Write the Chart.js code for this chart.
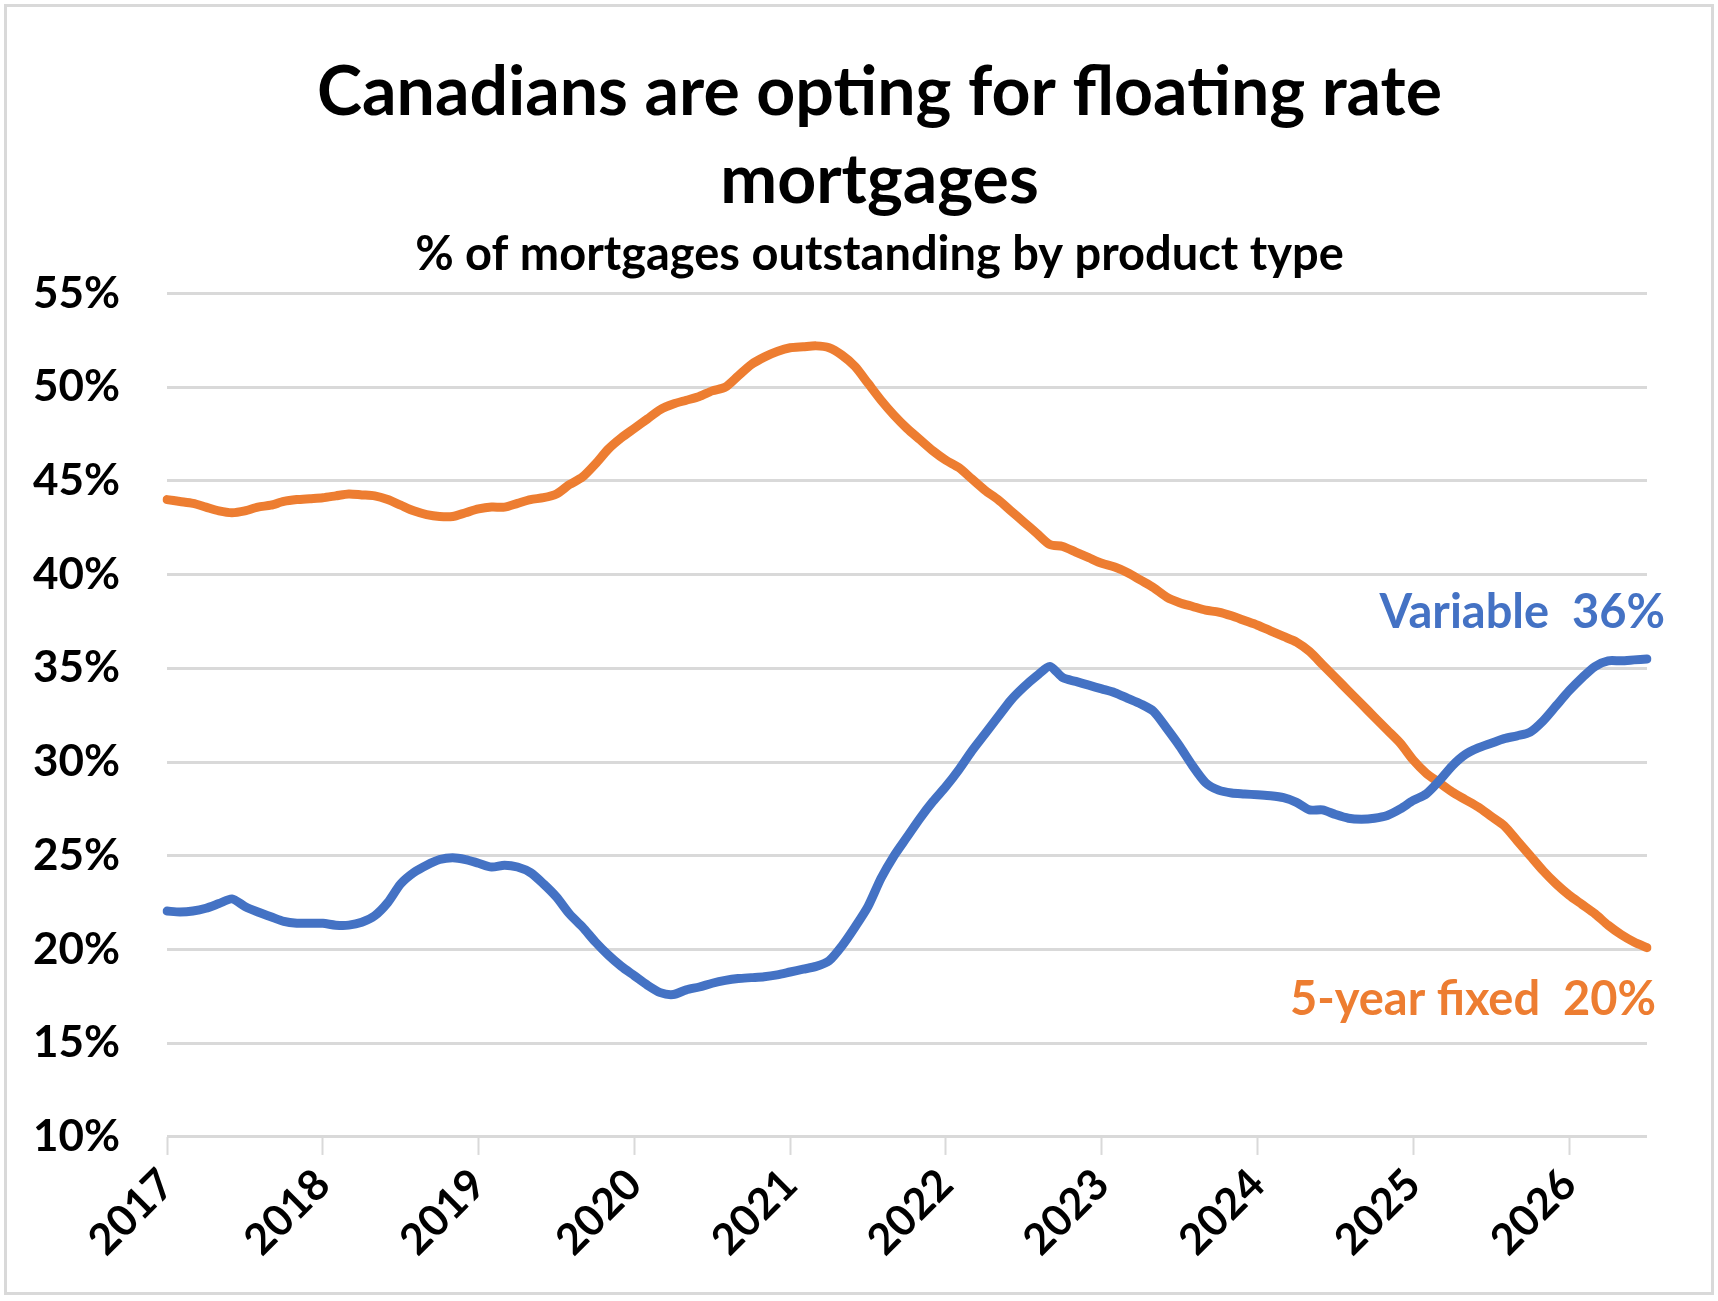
<!DOCTYPE html>
<html>
<head>
<meta charset="utf-8">
<script src="https://cdn.jsdelivr.net/npm/chart.js@4.4.1/dist/chart.umd.min.js"></script>
<style>
  html, body { margin: 0; padding: 0; background: #fff; }
  #wrap { position: relative; width: 1718px; height: 1301px; }
  #frame { position: absolute; left: 4px; top: 4px; right: 4px; bottom: 6px; border: 3px solid #d9d9d9; pointer-events: none; }
</style>
</head>
<body>
<div id="wrap">
  <canvas id="grafico"></canvas>
  <div id="frame"></div>
</div>
<script>
// --- DADOS ---
const anos = ['2017', '2018', '2019', '2020', '2021', '2022', '2023', '2024', '2025', '2026'];
const mesesNomes = ['Jan', 'Feb', 'Mar', 'Apr', 'May', 'Jun', 'Jul', 'Aug', 'Sep', 'Oct', 'Nov', 'Dec'];

// % variable rate mortgages (monthly, Jan 2017 - Jul 2026)
const variavel = [
  22.05, 22.0, 22.05, 22.2, 22.45, 22.7, 22.3, 22.0, 21.75, 21.5,
  21.4, 21.4, 21.4, 21.3, 21.3, 21.45, 21.8, 22.5, 23.5, 24.1,
  24.5, 24.8, 24.9, 24.8, 24.6, 24.4, 24.5, 24.4, 24.1, 23.5,
  22.8, 21.9, 21.2, 20.4, 19.7, 19.1, 18.6, 18.1, 17.7, 17.6,
  17.85, 18.0, 18.2, 18.35, 18.45, 18.5, 18.55, 18.65, 18.8, 18.95,
  19.1, 19.4, 20.2, 21.2, 22.3, 23.8, 25.0, 26.0, 27.0, 27.9,
  28.7, 29.6, 30.6, 31.5, 32.4, 33.3, 34.0, 34.6, 35.1, 34.5,
  34.3, 34.1, 33.9, 33.7, 33.4, 33.1, 32.7, 31.8, 30.85, 29.8,
  28.9, 28.5, 28.35, 28.3, 28.25, 28.2, 28.1, 27.85, 27.45, 27.45,
  27.2, 27.0, 26.95, 27.0, 27.15, 27.5, 27.95, 28.3, 29.0, 29.8,
  30.4, 30.75, 31.0, 31.25, 31.4, 31.6, 32.2, 33.0, 33.8, 34.5,
  35.1, 35.4, 35.4, 35.45, 35.5
];

// % 5-year fixed mortgages
const fixo = [
  44.0, 43.9, 43.8, 43.6, 43.4, 43.3, 43.4, 43.6, 43.7, 43.9,
  44.0, 44.05, 44.1, 44.2, 44.3, 44.25, 44.2, 44.0, 43.7, 43.4,
  43.2, 43.1, 43.1, 43.3, 43.5, 43.6, 43.6, 43.8, 44.0, 44.1,
  44.3, 44.8, 45.2, 45.9, 46.7, 47.3, 47.8, 48.3, 48.8, 49.1,
  49.3, 49.5, 49.8, 50.0, 50.6, 51.2, 51.6, 51.9, 52.1, 52.15,
  52.2, 52.1, 51.7, 51.1, 50.2, 49.3, 48.5, 47.8, 47.2, 46.6,
  46.1, 45.7, 45.1, 44.5, 44.0, 43.4, 42.8, 42.2, 41.6, 41.5,
  41.2, 40.9, 40.6, 40.4, 40.1, 39.7, 39.3, 38.8, 38.5, 38.3,
  38.1, 38.0, 37.8, 37.55, 37.3, 37.0, 36.7, 36.4, 35.9, 35.2,
  34.5, 33.8, 33.1, 32.4, 31.7, 31.0, 30.1, 29.4, 28.9, 28.4,
  28.0, 27.6, 27.1, 26.6, 25.8, 25.0, 24.2, 23.5, 22.9, 22.4,
  21.9, 21.3, 20.8, 20.4, 20.1
];

const ultimoVariavel = '36%';
const ultimoFixo = '20%';

const AZUL = '#4472C4';
const LARANJA = '#ED7D31';
const CINZA = '#d9d9d9';
const FONTE = 'Lato, "Open Sans", sans-serif';

// rótulos mensais a partir dos anos
const rotulos = [];
anos.forEach(a => mesesNomes.forEach(m => {
  if (rotulos.length < variavel.length) rotulos.push(`${m} ${a}`);
}));

// título um pouco à direita, como no original
const deslocaTitulo = {
  id: 'deslocaTitulo',
  afterLayout(chart) {
    chart.boxes.forEach(b => {
      if (b.position === 'top' && b.options && b.options.text !== undefined) {
        b.left += 56;
        b.right += 56;
      }
    });
  }
};

// rótulos no fim das linhas
const rotulosFinais = {
  id: 'rotulosFinais',
  afterDraw(chart) {
    const { ctx, chartArea, scales } = chart;
    ctx.save();
    ctx.font = `bold 47px ${FONTE}`;
    ctx.textAlign = 'right';
    ctx.textBaseline = 'middle';
    ctx.fillStyle = AZUL;
    ctx.fillText(`Variable  ${ultimoVariavel}`, chartArea.right + 18, scales.y.getPixelForValue(37.95));
    ctx.fillStyle = LARANJA;
    ctx.fillText(`5-year fixed  ${ultimoFixo}`, chartArea.right + 9, scales.y.getPixelForValue(17.3));
    ctx.restore();
  }
};

const ctx = document.getElementById('grafico');
new Chart(ctx, {
  type: 'line',
  data: {
    labels: rotulos,
    datasets: [
      { label: 'Variable', data: variavel, borderColor: AZUL, borderWidth: 9, pointRadius: 0, tension: 0.25, borderCapStyle: 'round', borderJoinStyle: 'round' },
      { label: '5-year fixed', data: fixo, borderColor: LARANJA, borderWidth: 9, pointRadius: 0, tension: 0.25, borderCapStyle: 'round', borderJoinStyle: 'round' }
    ]
  },
  options: {
    responsive: true,
    maintainAspectRatio: false,
    devicePixelRatio: 1,
    animation: false,
    layout: { padding: { left: 0, right: 71, top: 0, bottom: 31 } },
    plugins: {
      legend: { display: false },
      tooltip: { enabled: false },
      title: {
        display: true,
        text: ['Canadians are opting for floating rate', 'mortgages'],
        color: '#000',
        font: { family: FONTE, size: 68, weight: 'bold', lineHeight: 1.294 },
        padding: { top: 49, bottom: 2 }
      },
      subtitle: {
        display: true,
        text: '% of mortgages outstanding by product type',
        color: '#000',
        font: { family: FONTE, size: 47, weight: 'bold', lineHeight: 1.2 },
        padding: { top: 0, bottom: 10 }
      }
    },
    scales: {
      x: {
        offset: false,
        border: { display: false },
        grid: {
          drawOnChartArea: false,
          drawTicks: true,
          tickLength: 18,
          tickWidth: 2,
          tickColor: c => (c.index % 12 === 0 ? CINZA : 'rgba(0,0,0,0)')
        },
        ticks: {
          autoSkip: false,
          minRotation: 45,
          maxRotation: 45,
          padding: 4,
          color: '#000',
          font: { family: FONTE, size: 43, weight: 'bold' },
          callback: (v, i) => (i % 12 === 0 ? anos[i / 12] : '')
        }
      },
      y: {
        min: 10,
        max: 55,
        border: { display: false },
        grid: { color: CINZA, lineWidth: 3, drawTicks: false },
        afterFit: s => { s.width = 167; },
        ticks: {
          stepSize: 5,
          padding: 47,
          color: '#000',
          font: { family: FONTE, size: 44, weight: 'bold' },
          callback: v => v + '%'
        }
      }
    }
  },
  plugins: [deslocaTitulo, rotulosFinais]
});
</script>
</body>
</html>
